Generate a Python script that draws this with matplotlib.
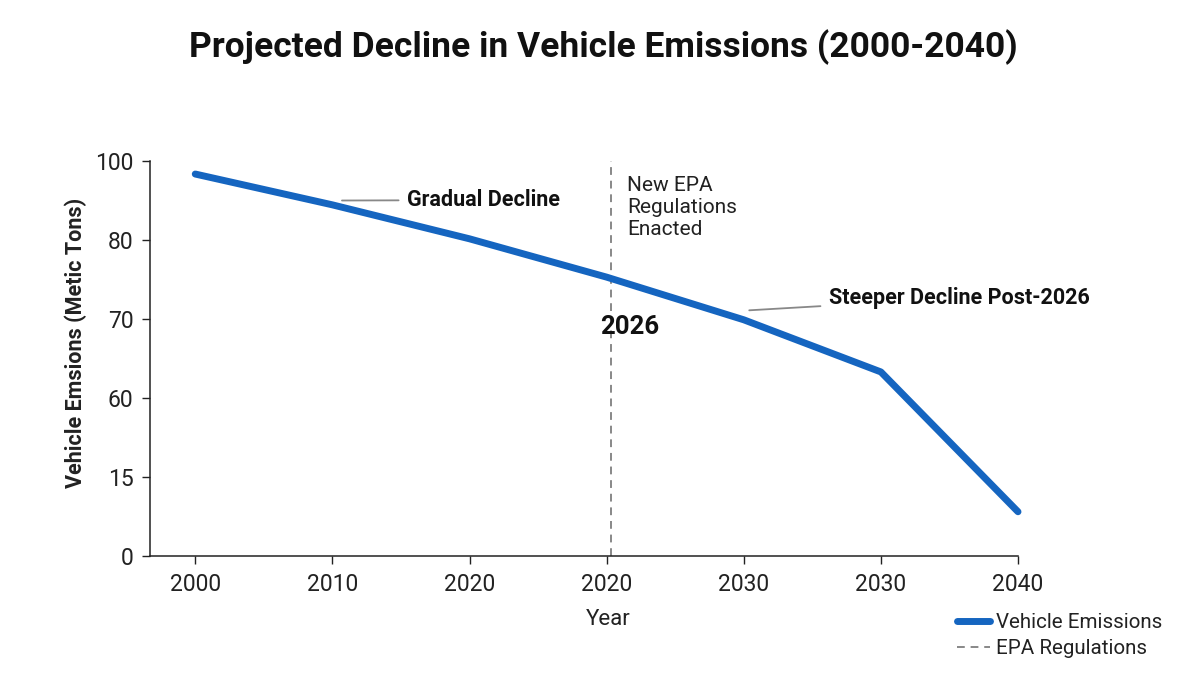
import numpy as np
import matplotlib
matplotlib.use("Agg")
import matplotlib.pyplot as plt

plt.rcParams['font.family'] = ['Roboto', 'DejaVu Sans']

# Data
year_labels = ["2000", "2010", "2020", "2020", "2030", "2030", "2040"]
emissions = [96.7, 88.9, 80.3, 75.3, 69.9, 63.3, 8.4]
y_tick_values = [0, 15, 60, 70, 80, 100]
regulation_pos = 3.03

x = np.arange(len(year_labels))
tick_idx = np.arange(len(y_tick_values), dtype=float)

def fwd(v):
    return np.interp(v, y_tick_values, tick_idx)

def inv(i):
    return np.interp(i, tick_idx, y_tick_values)

fig = plt.figure(figsize=(12, 6.85), dpi=100)
ax = fig.add_axes([150/1200, 1-556/685, 868/1200, 395/685])
ax.set_yscale('function', functions=(fwd, inv))

blue = '#1565C0'
ax.plot(x, emissions, color=blue, lw=5, solid_capstyle='round', solid_joinstyle='round',
        label='Vehicle Emissions', zorder=3, clip_on=False)
ax.axvline(regulation_pos, color='#888888', lw=1.4, ls=(0, (4, 3)), label='EPA Regulations', zorder=2)

ax.set_xlim(-0.33, 6)
ax.set_ylim(0, 100)
ax.set_xticks(x)
ax.set_xticklabels(year_labels)
ax.set_yticks(y_tick_values)
ax.set_yticklabels([str(v) for v in y_tick_values])
ax.yaxis.set_minor_locator(matplotlib.ticker.NullLocator())
ax.tick_params(labelsize=16.5, colors='#222222', length=6, width=1, pad=6)

for s in ['top', 'right']:
    ax.spines[s].set_visible(False)
for s in ['left', 'bottom']:
    ax.spines[s].set_color('#222222')
    ax.spines[s].set_linewidth(1.1)

ax.set_xlabel('Year', fontsize=16, color='#222222')
ax.xaxis.set_label_coords((608-150)/868, -0.135)
ax.set_ylabel('Vehicle Emsions (Metic Tons)', fontsize=15.5, fontweight='bold', color='#222222')
ax.yaxis.set_label_coords((87-150)/868, 0.54)

fig.suptitle('Projected Decline in Vehicle Emissions (2000-2040)', fontsize=25.5, fontweight='bold',
             x=0.503, y=1-47/685, va='center', color='#111111')

ax.annotate('Gradual Decline', xy=(1.07, 90.0), xycoords='data',
            xytext=(0.296, 0.901), textcoords='axes fraction', va='center', ha='left',
            fontsize=15.5, fontweight='bold', color='#111111',
            arrowprops=dict(arrowstyle='-', color='#888888', lw=1.3, shrinkA=4, shrinkB=0))
ax.annotate('Steeper Decline Post-2026', xy=(4.04, 71.1), xycoords='data',
            xytext=(0.782, 0.653), textcoords='axes fraction', va='center', ha='left',
            fontsize=15.5, fontweight='bold', color='#111111',
            arrowprops=dict(arrowstyle='-', color='#888888', lw=1.3, shrinkA=4, shrinkB=0))

ax.text((627-150)/868, 0.962, 'New EPA\nRegulations\nEnacted', transform=ax.transAxes,
        ha='left', va='top', fontsize=15, color='#222222', linespacing=1.2)
ax.text((630-150)/868, 0.58, '2026', transform=ax.transAxes, ha='center', va='center',
        fontsize=18.5, fontweight='bold', color='#111111')

fig.legend(loc='upper left', bbox_to_anchor=(947/1200, 1-603/685), frameon=False,
           fontsize=14.8, handlelength=1.6, handletextpad=0.3, labelspacing=0.35,
           borderpad=0, labelcolor='#222222')

fig.savefig('out.png', dpi=100, facecolor='white')
